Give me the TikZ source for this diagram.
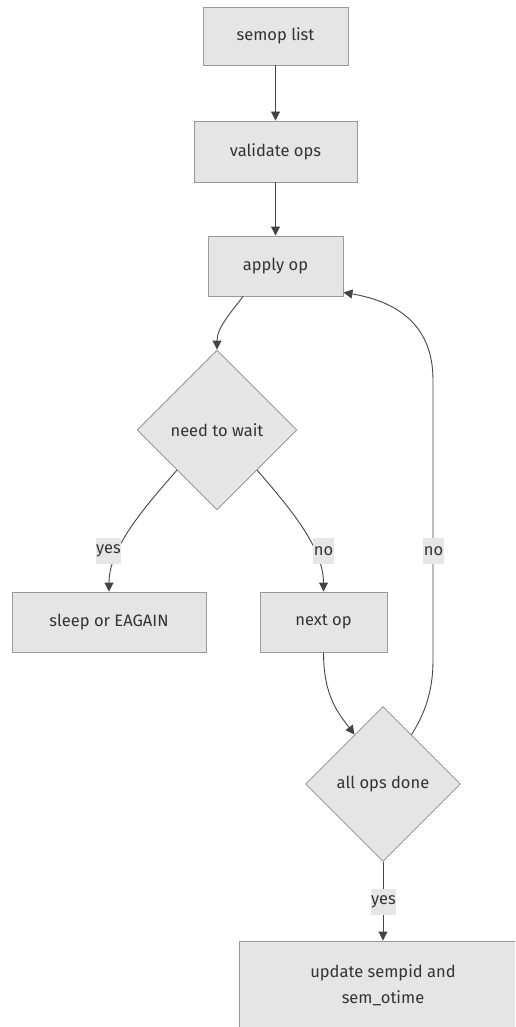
\documentclass[tikz,border=0pt]{standalone}
\usepackage{fontspec}
\setmainfont{Fira Sans}
\usetikzlibrary{shapes.geometric,arrows.meta}
\definecolor{nodefill}{HTML}{E5E5E5}
\definecolor{nodeline}{HTML}{999999}
\definecolor{edgeline}{HTML}{444444}
\definecolor{labelbg}{HTML}{E6E6E6}
\definecolor{txt}{HTML}{333333}
\begin{document}
\begin{tikzpicture}[x=1pt,y=-1pt,
  lbl/.style={font=\fontsize{16.5}{26}\selectfont, text=txt},
  box/.style={lbl, draw=nodeline, fill=nodefill, line width=0.9pt, inner sep=0pt, align=center},
  decision/.style={lbl, diamond, draw=nodeline, fill=nodefill, line width=0.9pt, inner sep=0pt, aspect=1},
  flow/.style={draw=edgeline, line width=0.9pt, -{Triangle[length=9pt,width=9pt]}},
  edgelabel/.style={lbl, fill=labelbg, inner xsep=0.5pt, inner ysep=0pt, minimum height=26pt}
]
\useasboundingbox (0,0) rectangle (515,1027);
\clip (0,0) rectangle (515,1027);

% process steps
\node[box, minimum width=145pt, minimum height=58pt] (semop) at (275.5,36) {semop list};
\node[box, minimum width=163pt, minimum height=61pt] (validate) at (275.5,151.5) {validate ops};
\node[box, minimum width=135pt, minimum height=60pt] (apply) at (275.5,266) {apply op};
\node[decision, minimum width=160pt, minimum height=160pt] (wait) at (217,430) {need to wait};
\node[box, minimum width=194pt, minimum height=60pt] (sleep) at (109,622) {sleep or EAGAIN};
\node[box, minimum width=127pt, minimum height=60pt] (next) at (323.5,622) {next op};
\node[decision, minimum width=155pt, minimum height=155pt] (done) at (383,784) {all ops done};
\node[box, minimum width=288pt, minimum height=88pt] (update) at (383,985) {update sempid and\\sem\_otime};

% loop-back route
\coordinate (loopbot) at (433,660);
\coordinate (looptop) at (433,380);

% connectors
\draw[flow] (semop) -- (validate);
\draw[flow] (validate) -- (apply);
\draw[flow] ([xshift=-32.5pt]apply.south) .. controls +(-12,16) and +(0,-22) .. (wait.north);
\draw[flow] (wait.south west) .. controls +(-30,35) and +(0,-45) .. (sleep.north);
\draw[flow] (wait.south east) .. controls +(30,35) and +(0,-45) .. (next.north);
\draw[flow] (next.south) .. controls +(0,45) and +(-15,-20) .. (done.120);
\draw[flow] (done.60) .. controls +(14,-22) and +(0,30) .. (loopbot) -- (looptop)
  .. controls +(0,-60) and +(47,8) .. ([yshift=4pt]apply.south east);
\draw[flow] (done.south) -- (update.north);

% edge labels
\node[edgelabel] (lyes1) at (108.5,551) {yes};
\node[edgelabel] (lno1) at (323.5,551) {no};
\node[edgelabel] (lno2) at (433.5,551) {no};
\node[edgelabel] (lyes2) at (383.5,902) {yes};
\end{tikzpicture}
\end{document}
